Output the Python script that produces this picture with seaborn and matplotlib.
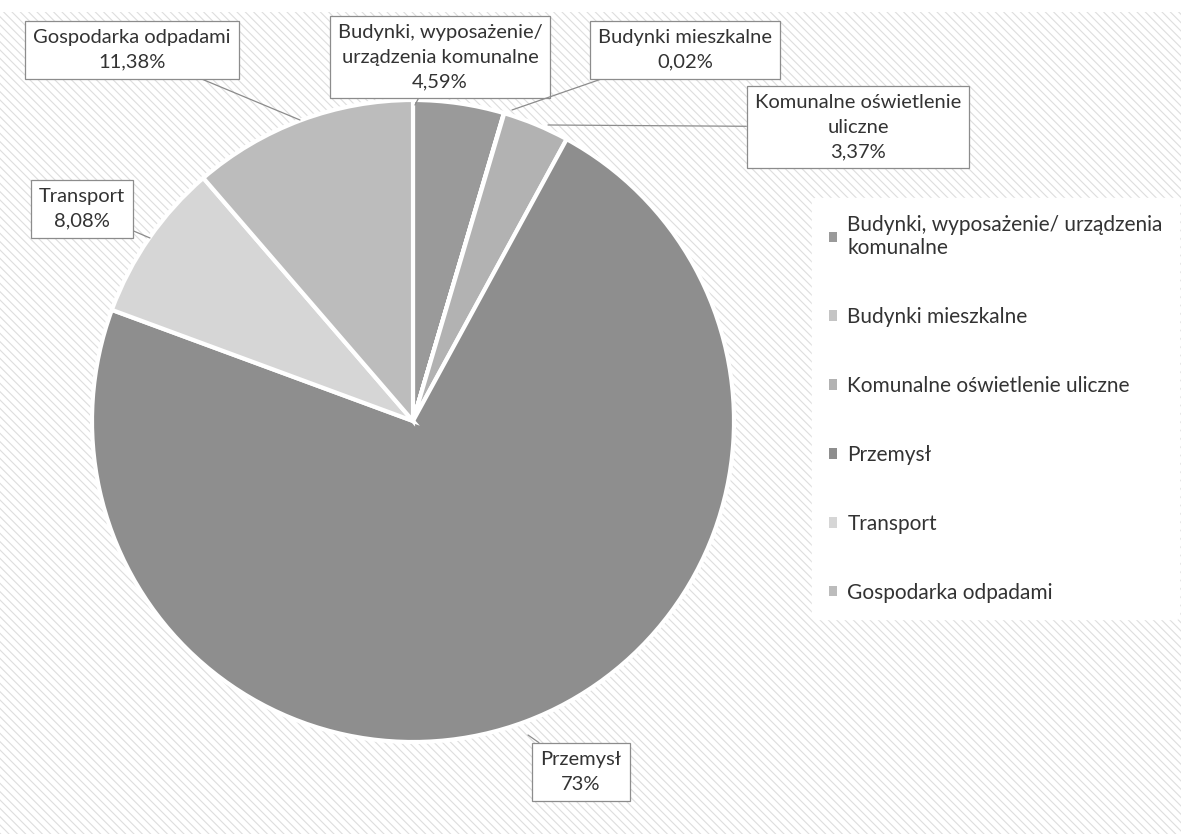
import matplotlib
matplotlib.use("Agg")
import matplotlib.pyplot as plt
from matplotlib.patches import Rectangle, Patch
import seaborn as sns

# data
categories = [
    "Budynki, wyposażenie/ urządzenia komunalne",
    "Budynki mieszkalne",
    "Komunalne oświetlenie uliczne",
    "Przemysł",
    "Transport",
    "Gospodarka odpadami",
]
shares = [4.59, 0.02, 3.37, 73.0, 8.08, 11.38]
share_labels = ["4,59%", "0,02%", "3,37%", "73%", "8,08%", "11,38%"]
label_names = [
    "Budynki, wyposażenie/\nurządzenia komunalne",
    "Budynki mieszkalne",
    "Komunalne oświetlenie\nuliczne",
    "Przemysł",
    "Transport",
    "Gospodarka odpadami",
]
legend_names = [
    "Budynki, wyposażenie/ urządzenia\nkomunalne",
    "Budynki mieszkalne",
    "Komunalne oświetlenie uliczne",
    "Przemysł",
    "Transport",
    "Gospodarka odpadami",
]
grays = ["#9a9a9a", "#c4c4c4", "#b2b2b2", "#8e8e8e", "#d6d6d6", "#bcbcbc"]

W, H = 1181, 834

sns.set_theme(style="white")
plt.rcParams["font.family"] = ["Lato", "DejaVu Sans"]
plt.rcParams["hatch.linewidth"] = 0.8

fig = plt.figure(figsize=(W / 100, H / 100), dpi=100)
ax = fig.add_axes([0, 0, 1, 1])

# hatched page background
ax.add_patch(Rectangle((0, 0), W, H - 12, facecolor="white", edgecolor="#dedede",
                       hatch="\\\\\\\\", linewidth=0, zorder=0))

wedges, _ = ax.pie(shares, colors=grays, startangle=90, counterclock=False,
                   center=(413, H - 421), radius=321,
                   wedgeprops=dict(edgecolor="white", linewidth=3))
for w in wedges:
    w.set_zorder(2)

ax.set_xlim(0, W)
ax.set_ylim(0, H)
ax.set_aspect("equal")
ax.axis("off")

# callout boxes: (text centre, point on pie)
callouts = [
    ((440, 57), (415, 105)),
    ((685, 50), (512, 110)),
    ((858, 127), (548, 125)),
    ((581, 772), (528, 735)),
    ((82, 209), (150, 238)),
    ((132, 50), (300, 120)),
]
for name, pct, (tpos, ppos) in zip(label_names, share_labels, callouts):
    ax.annotate(f"{name}\n{pct}", xy=(ppos[0], H - ppos[1]),
                xytext=(tpos[0], H - tpos[1]), ha="center", va="center",
                fontsize=14.5, color="#333333", linespacing=1.55, zorder=5,
                bbox=dict(boxstyle="square,pad=0.4", facecolor="white",
                          edgecolor="#8c8c8c", linewidth=0.9),
                arrowprops=dict(arrowstyle="-", color="#8c8c8c", linewidth=0.9,
                                shrinkA=0, shrinkB=0))

handles = [Patch(facecolor=c, edgecolor="none") for c in grays]
leg = ax.legend(handles, legend_names, loc="upper left",
                bbox_to_anchor=(812 / W, 1 - 198 / H), fontsize=15,
                frameon=True, framealpha=1, facecolor="white", edgecolor="white",
                handlelength=0.4, handleheight=0.4, handletextpad=0.5,
                labelspacing=2.35, borderpad=0.8, borderaxespad=0)
for t in leg.get_texts():
    t.set_color("#333333")
leg.set_zorder(6)

fig.savefig("out.png", dpi=100)
